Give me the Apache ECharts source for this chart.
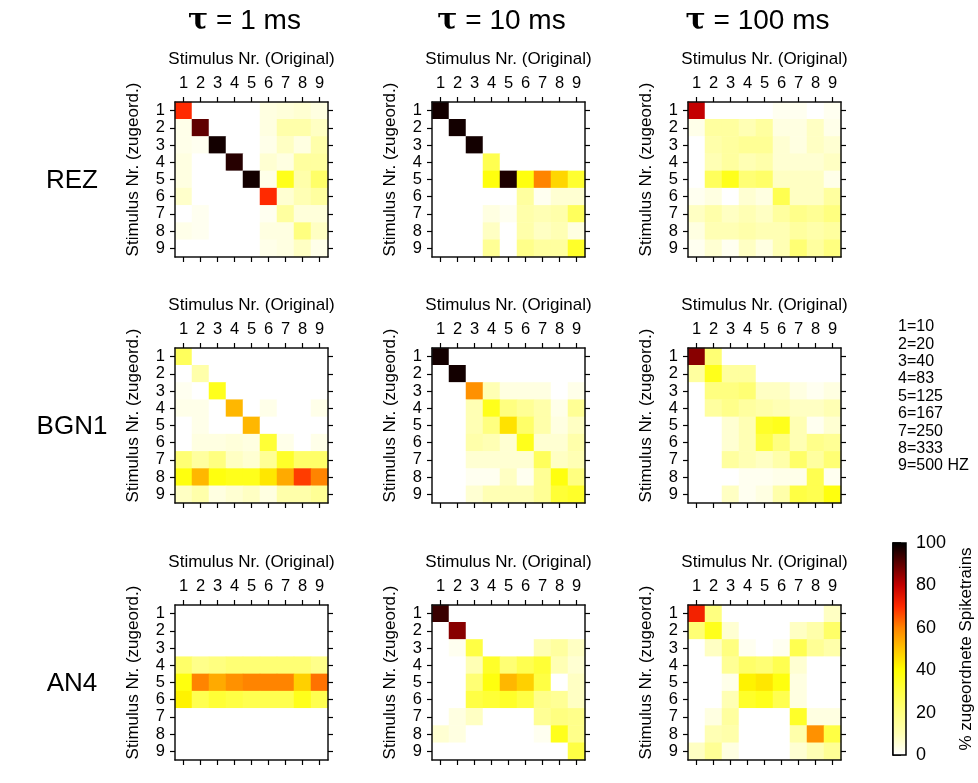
<!DOCTYPE html>
<html>
<head>
<meta charset="utf-8">
<script src="https://cdn.jsdelivr.net/npm/echarts@6/dist/echarts.min.js"></script>
<style>
  html, body { margin: 0; padding: 0; background: #fff; }
  #chart { width: 978px; height: 783px; }
</style>
</head>
<body>
<div id="chart"></div>
<script>
// Stimulus Nummern (Achsen)
var stimuli = ['1', '2', '3', '4', '5', '6', '7', '8', '9']
var tauLabels = ['1 ms', '10 ms', '100 ms']
var rowLabels = ['REZ', 'BGN1', 'AN4']
var hzLegend = ['1=10', '2=20', '3=40', '4=83', '5=125', '6=167', '7=250', '8=333', '9=500 HZ']
var colorTicks = [0, 20, 40, 60, 80, 100]

// Zeilen = zugeordnet (1..9), Spalten = Original (1..9), Werte in %
var rez1 = [
  [70, 0, 0, 0, 0, 4, 5, 6, 4],
  [3, 90, 0, 0, 0, 4, 12, 12, 8],
  [3, 2, 98, 0, 0, 3, 8, 4, 12],
  [4, 0, 0, 96, 0, 6, 4, 14, 14],
  [4, 0, 0, 0, 98, 3, 36, 12, 24],
  [7, 0, 0, 0, 0, 70, 6, 10, 14],
  [0, 2, 0, 0, 0, 2, 14, 5, 5],
  [3, 2, 0, 0, 0, 4, 4, 20, 8],
  [0, 0, 0, 0, 0, 3, 4, 8, 3]
]
var rez10 = [
  [98, 0, 0, 0, 0, 0, 0, 0, 0],
  [0, 98, 0, 0, 0, 0, 0, 0, 0],
  [0, 0, 98, 0, 0, 0, 0, 0, 0],
  [0, 0, 0, 28, 0, 0, 0, 0, 0],
  [0, 0, 0, 38, 97, 38, 60, 47, 33],
  [0, 0, 0, 0, 0, 14, 2, 6, 6],
  [0, 0, 0, 4, 2, 12, 10, 12, 26],
  [0, 0, 0, 8, 0, 12, 8, 10, 4],
  [0, 0, 0, 16, 0, 18, 14, 14, 34]
]
var rez100 = [
  [80, 0, 0, 0, 0, 2, 2, 0, 2],
  [3, 14, 14, 10, 14, 4, 4, 8, 3],
  [0, 12, 14, 16, 16, 6, 4, 8, 6],
  [0, 10, 14, 10, 12, 6, 6, 6, 8],
  [0, 26, 36, 22, 24, 8, 8, 8, 3],
  [2, 4, 0, 6, 4, 28, 8, 8, 14],
  [8, 12, 8, 10, 8, 14, 18, 16, 20],
  [4, 10, 10, 12, 10, 10, 14, 12, 14],
  [2, 6, 2, 8, 4, 10, 22, 14, 20]
]
var bgn1 = [
  [26, 0, 0, 0, 0, 0, 0, 0, 0],
  [0, 12, 0, 0, 0, 0, 0, 0, 0],
  [2, 0, 36, 0, 0, 0, 0, 0, 0],
  [3, 3, 0, 52, 0, 3, 0, 0, 3],
  [0, 3, 0, 0, 52, 0, 0, 0, 0],
  [0, 4, 4, 5, 4, 32, 3, 0, 3],
  [22, 14, 20, 8, 6, 16, 34, 24, 24],
  [38, 52, 38, 36, 36, 44, 54, 68, 60],
  [8, 12, 4, 6, 8, 4, 12, 12, 16]
]
var bgn10 = [
  [98, 0, 0, 0, 0, 0, 0, 0, 0],
  [0, 98, 0, 0, 0, 0, 0, 0, 0],
  [0, 0, 58, 10, 4, 4, 4, 0, 3],
  [0, 0, 10, 36, 20, 16, 12, 3, 16],
  [0, 0, 10, 20, 45, 24, 12, 4, 8],
  [0, 0, 12, 10, 6, 36, 6, 6, 12],
  [0, 0, 6, 6, 6, 6, 26, 8, 10],
  [0, 0, 2, 2, 8, 2, 16, 38, 20],
  [0, 0, 6, 10, 10, 10, 16, 32, 34]
]
var bgn100 = [
  [86, 22, 0, 0, 0, 0, 0, 0, 0],
  [14, 36, 14, 14, 0, 0, 0, 0, 0],
  [0, 20, 20, 22, 8, 8, 4, 2, 4],
  [0, 14, 18, 14, 12, 10, 8, 8, 10],
  [0, 0, 6, 10, 34, 36, 10, 2, 6],
  [0, 0, 6, 10, 30, 20, 10, 18, 16],
  [0, 0, 14, 10, 8, 12, 24, 14, 22],
  [0, 0, 0, 2, 2, 3, 3, 28, 2],
  [0, 0, 8, 2, 4, 12, 30, 28, 38]
]
var an1 = [
  [0, 0, 0, 0, 0, 0, 0, 0, 0],
  [0, 0, 0, 0, 0, 0, 0, 0, 0],
  [0, 0, 0, 0, 0, 0, 0, 0, 0],
  [24, 18, 20, 22, 22, 22, 22, 22, 18],
  [38, 60, 54, 58, 60, 60, 60, 48, 62],
  [42, 28, 32, 30, 28, 28, 28, 36, 28],
  [0, 0, 0, 0, 0, 0, 0, 0, 0],
  [0, 0, 0, 0, 0, 0, 0, 0, 0],
  [0, 0, 0, 0, 0, 0, 0, 0, 0]
]
var an10 = [
  [94, 0, 0, 0, 0, 0, 0, 0, 0],
  [0, 86, 0, 0, 0, 0, 0, 0, 0],
  [0, 2, 30, 0, 0, 0, 10, 14, 8],
  [0, 0, 10, 34, 22, 28, 32, 10, 6],
  [0, 0, 22, 38, 52, 48, 30, 0, 8],
  [0, 0, 30, 32, 34, 30, 18, 16, 8],
  [0, 4, 8, 0, 0, 0, 16, 20, 18],
  [6, 4, 0, 0, 0, 0, 2, 36, 18],
  [0, 0, 0, 0, 0, 0, 0, 0, 30]
]
var an100 = [
  [72, 20, 0, 0, 0, 0, 0, 0, 8],
  [22, 36, 6, 0, 0, 0, 8, 12, 24],
  [0, 8, 20, 2, 0, 2, 28, 16, 12],
  [0, 0, 16, 24, 22, 28, 6, 0, 0],
  [0, 0, 3, 42, 44, 38, 4, 0, 0],
  [0, 0, 10, 34, 36, 28, 4, 0, 0],
  [0, 4, 14, 0, 0, 0, 34, 4, 4],
  [0, 10, 12, 0, 0, 0, 12, 58, 30],
  [8, 16, 4, 0, 0, 0, 6, 10, 16]
]
var panels = [rez1, rez10, rez100, bgn1, bgn10, bgn100, an1, an10, an100]

// heat-Farbskala 0..100 (Schritte von 10)
var heatColors = ['#ffffff', '#ffffb4', '#ffff80', '#ffff44', '#ffff00', '#ffc400',
  '#ff8400', '#ff2a00', '#c40000', '#600000', '#000000']

var FONT = 'Liberation Sans'
var gridLeft = [175, 432, 688]
var gridTop = [102, 348, 605]
var GW = 153
var GH = 155

var chart = echarts.init(document.getElementById('chart'))

var grids = [], xAxes = [], yAxes = [], series = [], titles = [], graphics = []

function tickAxis (extra) {
  var base = {
    type: 'category',
    data: stimuli,
    z: 5,
    axisLine: { show: true, lineStyle: { color: '#111', width: 1.5 } },
    axisTick: { show: true, alignWithLabel: true, length: 5, lineStyle: { color: '#000', width: 1.2 } },
    splitLine: { show: false }
  }
  return Object.assign(base, extra)
}

panels.forEach(function (m, i) {
  var r = Math.floor(i / 3), c = i % 3
  grids.push({ left: gridLeft[c], top: gridTop[r], width: GW, height: GH })
  xAxes.push(tickAxis({
    gridIndex: i, position: 'top',
    name: 'Stimulus Nr. (Original)', nameLocation: 'middle', nameGap: 34,
    nameTextStyle: { fontFamily: FONT, fontSize: 17, color: '#000' },
    axisLabel: { fontFamily: FONT, fontSize: 16.5, color: '#000', margin: 10, interval: 0 }
  }))
  xAxes.push(tickAxis({ gridIndex: i, position: 'bottom', axisLabel: { show: false } }))
  yAxes.push(tickAxis({
    gridIndex: i, position: 'left', inverse: true,
    name: 'Stimulus Nr. (zugeord.)', nameLocation: 'middle', nameGap: 33, nameRotate: 90,
    nameTextStyle: { fontFamily: FONT, fontSize: 17, color: '#000', padding: [0, 0, 0, 20] },
    axisLabel: { fontFamily: FONT, fontSize: 16.5, color: '#000', margin: 10, interval: 0 }
  }))
  yAxes.push(tickAxis({ gridIndex: i, position: 'right', inverse: true, axisLabel: { show: false } }))

  var data = []
  for (var y = 0; y < 9; y++) {
    for (var x = 0; x < 9; x++) {
      data.push([x, y, m[y][x]])
    }
  }
  series.push({
    type: 'heatmap',
    xAxisIndex: 2 * i,
    yAxisIndex: 2 * i,
    data: data,
    itemStyle: { borderWidth: 0 },
    emphasis: { disabled: true },
    z: 1
  })
})

// Farbskala-Achse
grids.push({ left: 893, top: 543, width: 13, height: 212, show: true, borderColor: '#000', borderWidth: 1.5, z: 5 })
xAxes.push({ gridIndex: 9, type: 'value', show: false })
yAxes.push({
  gridIndex: 9, type: 'value', position: 'right', min: 0, max: 100, interval: 20,
  name: '% zugeordnete Spiketrains', nameLocation: 'middle', nameGap: 52, nameRotate: 90,
  nameTextStyle: { fontFamily: FONT, fontSize: 17, color: '#000' },
  axisLine: { show: true, lineStyle: { color: '#000', width: 1.5 } },
  axisTick: { show: true, length: 8, lineStyle: { color: '#000', width: 1.5 } },
  minorTick: { show: true, splitNumber: 2, length: 8, lineStyle: { color: '#000', width: 1.5 } },
  splitLine: { show: false },
  axisLabel: { fontFamily: FONT, fontSize: 18, color: '#000', margin: 10 }
})

var stops = heatColors.map(function (col, k) {
  return { offset: 1 - k / (heatColors.length - 1), color: col }
})
graphics.push({
  type: 'rect', left: 893, top: 543, z: 4,
  shape: { width: 13, height: 212 },
  style: { fill: new echarts.graphic.LinearGradient(0, 0, 0, 1, stops) }
})

// Legende Hz
graphics.push({
  type: 'text', left: 898, top: 318,
  style: { text: hzLegend.join('\n'), fontFamily: FONT, fontSize: 16, lineHeight: 17.4, fill: '#000' }
})

tauLabels.forEach(function (t, c) {
  titles.push({
    text: '{g|τ} = ' + t,
    left: gridLeft[c] + GW / 2 - 12, top: 1, textAlign: 'center',
    textStyle: {
      fontFamily: FONT, fontSize: 28, fontWeight: 'normal', color: '#000',
      rich: { g: { fontFamily: 'DejaVu Serif', fontSize: 30, fontWeight: 'bold', color: '#000' } }
    }
  })
})
rowLabels.forEach(function (t, r) {
  titles.push({
    text: t, left: 67, top: gridTop[r] + GH / 2 - 17, textAlign: 'center',
    textStyle: { fontFamily: FONT, fontSize: 26, fontWeight: 'normal', color: '#000' }
  })
})

var option = {
  backgroundColor: '#fff',
  animation: false,
  title: titles,
  grid: grids,
  xAxis: xAxes,
  yAxis: yAxes,
  visualMap: {
    show: false, type: 'continuous', min: 0, max: 100,
    seriesIndex: series.map(function (s, k) { return k }),
    inRange: { color: heatColors }
  },
  graphic: graphics,
  series: series
}
chart.setOption(option)
window.addEventListener('resize', function () {
  chart.resize()
})
</script>
</body>
</html>
